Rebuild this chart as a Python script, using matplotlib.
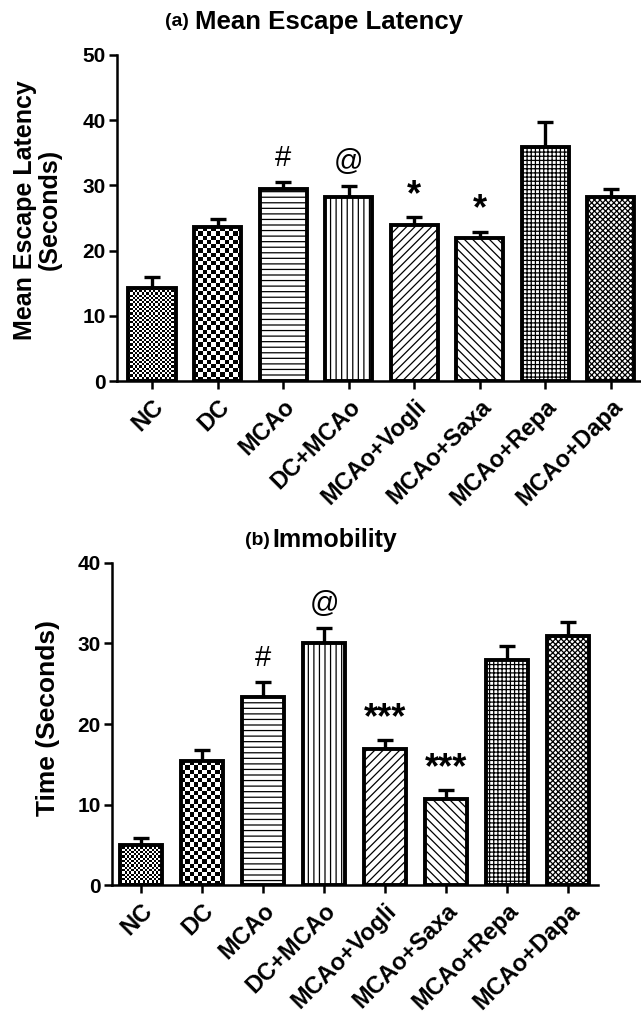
import numpy as np
import matplotlib.pyplot as plt

plt.rcParams['font.family'] = ['Liberation Sans', 'DejaVu Sans']
plt.rcParams['hatch.linewidth'] = 0.9
plt.rcParams['font.weight'] = 'bold'

groups = ['NC', 'DC', 'MCAo', 'DC+MCAo', 'MCAo+Vogli', 'MCAo+Saxa', 'MCAo+Repa', 'MCAo+Dapa']
latency = [14.2, 23.6, 29.4, 28.2, 23.9, 21.9, 35.9, 28.2]
latency_err = [1.8, 1.2, 1.1, 1.7, 1.2, 1.0, 3.8, 1.2]
immobility = [5.0, 15.4, 23.3, 30.0, 16.9, 10.7, 27.9, 30.9]
immobility_err = [0.8, 1.4, 1.9, 1.9, 1.1, 1.1, 1.8, 1.8]
latency_marks = ['', '', '#', '@', '*', '*', '', '']
immobility_marks = ['', '', '#', '@', '***', '***', '', '']

# hatch per group; None -> checkerboard drawn as clipped image
hatches = [None, None, '---', '|||', '////', '\\\\\\\\', '++++', 'xxxxxx']
checker_px = {0: 2.2, 1: 4.3}

W, H = 641, 1013
fig = plt.figure(figsize=(W / 100, H / 100), dpi=100)


def px_axes(x0, y_top, x1, y_bot):
    return fig.add_axes([x0 / W, 1 - y_bot / H, (x1 - x0) / W, (y_bot - y_top) / H])


def panel(ax, vals, errs, marks, ylim, yticks, xlim, width):
    x = np.arange(len(groups))
    ax.set_xlim(*xlim)
    ax.set_ylim(*ylim)
    bars = ax.bar(x, vals, width=width, facecolor='white', edgecolor='black',
                  linewidth=2.8, zorder=3)
    for i, b in enumerate(bars):
        if hatches[i] is None:
            b.set_facecolor('none')
        else:
            b.set_hatch(hatches[i])
    ax.errorbar(x, vals, yerr=[np.zeros(len(vals)), errs], fmt='none',
                ecolor='black', elinewidth=2.4, capsize=6, capthick=2.4, zorder=2)
    # checkerboard fills
    for i, cell in checker_px.items():
        b = bars[i]
        x0, y0 = b.get_x(), 0
        x1, y1 = x0 + b.get_width(), vals[i]
        (px0, py0), (px1, py1) = ax.transData.transform([(x0, y0), (x1, y1)])
        nc = max(1, int(round((px1 - px0) / cell)))
        nr = max(1, int(round((py1 - py0) / cell)))
        pat = np.indices((nr, nc)).sum(axis=0) % 2
        im = ax.imshow(pat, cmap='gray', extent=[x0, x1, y0, y1], aspect='auto',
                       interpolation='nearest', zorder=2.5)
        im.set_clip_path(b)
    ax.set_xlim(*xlim)
    ax.set_ylim(*ylim)
    for i, m in enumerate(marks):
        if m:
            star = '*' in m
            ax.annotate(m, (x[i], vals[i] + errs[i]), xytext=(0, 3 if star else 7),
                        textcoords='offset points', ha='center', va='bottom',
                        fontsize=26 if star else 21,
                        fontweight='bold' if star else 'normal', zorder=4)
    ax.spines[['top', 'right']].set_visible(False)
    ax.spines[['left', 'bottom']].set_linewidth(1.8)
    ax.set_yticks(yticks)
    ax.set_xticks(x)
    ax.set_xticklabels(groups, rotation=45, ha='right', rotation_mode='anchor',
                       fontsize=17, fontweight='bold')
    ax.tick_params(axis='y', length=6, width=1.8, labelsize=15, pad=2)
    ax.tick_params(axis='x', length=6, width=1.8, pad=4)


ax1 = px_axes(117, 55, 641, 381)
panel(ax1, latency, latency_err, latency_marks, (0, 50), np.arange(0, 51, 10),
      (-0.535, 7.46), 0.72)
ax1.set_ylabel('Mean Escape Latency\n(Seconds)', fontsize=18, fontweight='bold',
               linespacing=1.0, va='center')
ax1.yaxis.set_label_coords(-0.152, 0.525)

ax2 = px_axes(112, 563, 598, 885)
panel(ax2, immobility, immobility_err, immobility_marks, (0, 40), np.arange(0, 41, 10),
      (-0.475, 7.49), 0.70)
ax2.set_ylabel('Time (Seconds)', fontsize=19, fontweight='bold', va='center')
ax2.yaxis.set_label_coords(-0.132, 0.519)

fig.text(165 / W, 1 - 22 / H, '(a)', fontsize=14, fontweight='bold', va='center')
fig.text(195 / W, 1 - 22 / H, 'Mean Escape Latency', fontsize=18.5, fontweight='bold',
         va='center')
fig.text(245 / W, 1 - 540 / H, '(b)', fontsize=14, fontweight='bold', va='center')
fig.text(272 / W, 1 - 540 / H, 'Immobility', fontsize=18, fontweight='bold',
         va='center')

fig.savefig('out.png', dpi=100)
